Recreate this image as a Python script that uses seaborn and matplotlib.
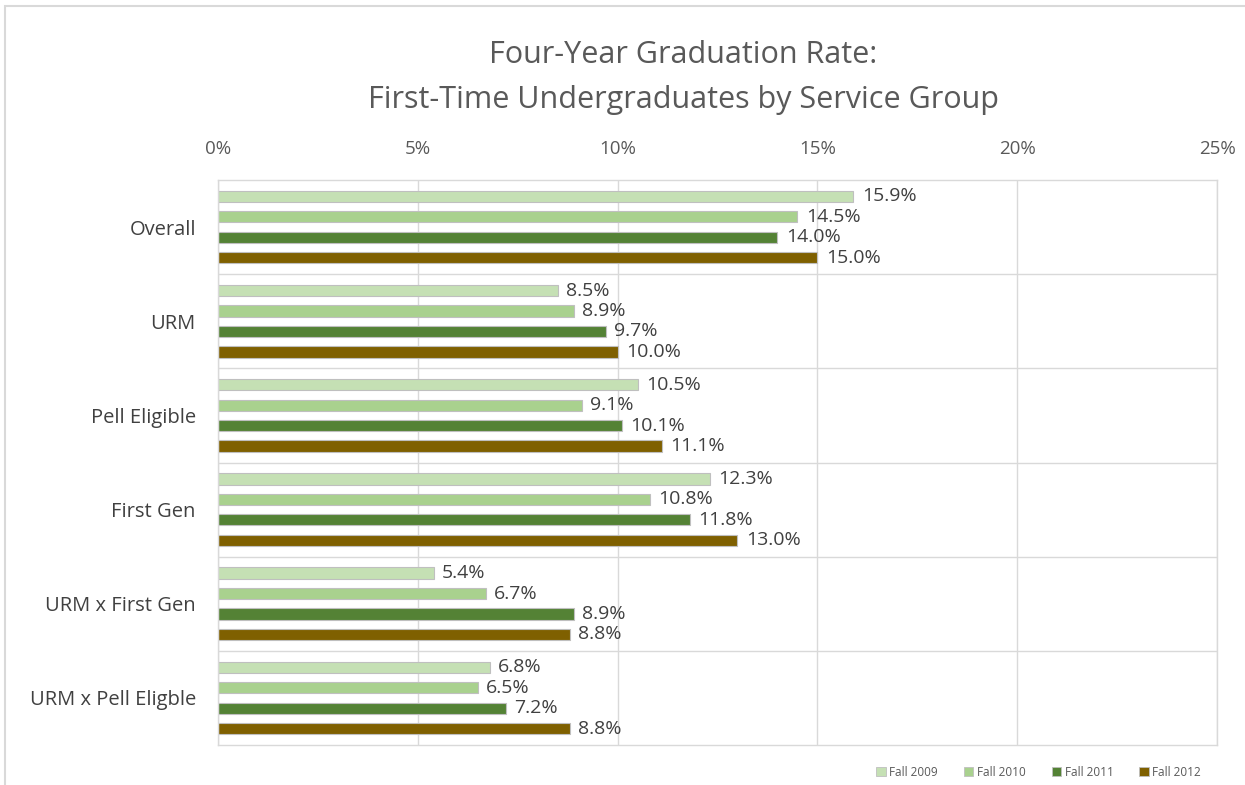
import numpy as np
import pandas as pd
import matplotlib
matplotlib.use('Agg')
import matplotlib.pyplot as plt
import matplotlib.patches as mpatches
import seaborn as sns

groups = ['Overall', 'URM', 'Pell Eligible', 'First Gen', 'URM x First Gen', 'URM x Pell Eligble']
terms = ['Fall 2009', 'Fall 2010', 'Fall 2011', 'Fall 2012']
fall_2009 = [15.9, 8.5, 10.5, 12.3, 5.4, 6.8]
fall_2010 = [14.5, 8.9, 9.1, 10.8, 6.7, 6.5]
fall_2011 = [14.0, 9.7, 10.1, 11.8, 8.9, 7.2]
fall_2012 = [15.0, 10.0, 11.1, 13.0, 8.8, 8.8]
colors = ['#C5E0B4', '#A9D18E', '#548235', '#7F6000']

rows = []
for term, vals in zip(terms, [fall_2009, fall_2010, fall_2011, fall_2012]):
    for g, v in zip(groups, vals):
        rows.append({'group': g, 'term': term, 'rate': v})
df = pd.DataFrame(rows)

sns.set_style('white')
plt.rcParams['font.family'] = ['Open Sans', 'DejaVu Sans']

fig = plt.figure(figsize=(12.45, 7.85), dpi=100)
ax = fig.add_axes([218 / 1245, 1 - 745 / 785, (1217 - 218) / 1245, (745 - 180) / 785])

sns.barplot(data=df, y='group', x='rate', hue='term', order=groups, hue_order=terms,
            palette=colors, saturation=1, orient='h', width=0.87, ax=ax,
            edgecolor='#BFBFBF', linewidth=0.8, legend=True)

# thin the bars, keep the spacing
bar_h = 0.12
for p in ax.patches:
    if p.get_height() > 0 and p.get_width() > 0 and p.get_height() < 1:
        c = p.get_y() + p.get_height() / 2
        p.set_y(c - bar_h / 2)
        p.set_height(bar_h)

for cont in ax.containers:
    ax.bar_label(cont, labels=[f'{v:.1f}%' for v in cont.datavalues], padding=6,
                 fontsize=14, color='#404040')

ax.set_xlim(0, 25)
ax.set_ylim(len(groups) - 0.5, -0.5)
ax.set_xticks([0, 5, 10, 15, 20, 25])
ax.set_xticklabels(['0%', '5%', '10%', '15%', '20%', '25%'])
ax.xaxis.tick_top()
ax.tick_params(axis='x', length=0, pad=16, labelsize=13.5, labelcolor='#595959')
ax.tick_params(axis='y', length=0, pad=16, labelsize=14.5, labelcolor='#404040')
ax.set_xlabel('')
ax.set_ylabel('')
ax.grid(axis='x', color='#D9D9D9', linewidth=1)
ax.set_axisbelow(True)
for y in np.arange(0.5, len(groups) - 1, 1):
    ax.axhline(y, color='#D9D9D9', linewidth=1, zorder=0)
for s in ax.spines.values():
    s.set_color('#D9D9D9')
    s.set_linewidth(1)

handles = [mpatches.Patch(facecolor=c, edgecolor='#BFBFBF', linewidth=0.6) for c in colors]
ax.legend(handles, terms, loc='center right', bbox_to_anchor=(1207 / 1245, 1 - 772 / 785),
          bbox_transform=fig.transFigure, ncol=4, frameon=False, fontsize=8.5,
          handlelength=0.8, handleheight=0.8, handletextpad=0.3, columnspacing=2.2,
          labelcolor='#595959', borderpad=0)

fig.text(683 / 1245, 1 - 55 / 785, 'Four-Year Graduation Rate:',
         ha='center', va='center', fontsize=22, color='#595959')
fig.text(683 / 1245, 1 - 100 / 785, 'First-Time Undergraduates by Service Group',
         ha='center', va='center', fontsize=22, color='#595959')

border = mpatches.Rectangle((5 / 1245, -0.05), 1.1, 1 - 6 / 785 + 0.05, transform=fig.transFigure,
                            fill=False, edgecolor='#D9D9D9', linewidth=1.5)
fig.patches.append(border)

fig.savefig('out.png', dpi=100, facecolor='white')
